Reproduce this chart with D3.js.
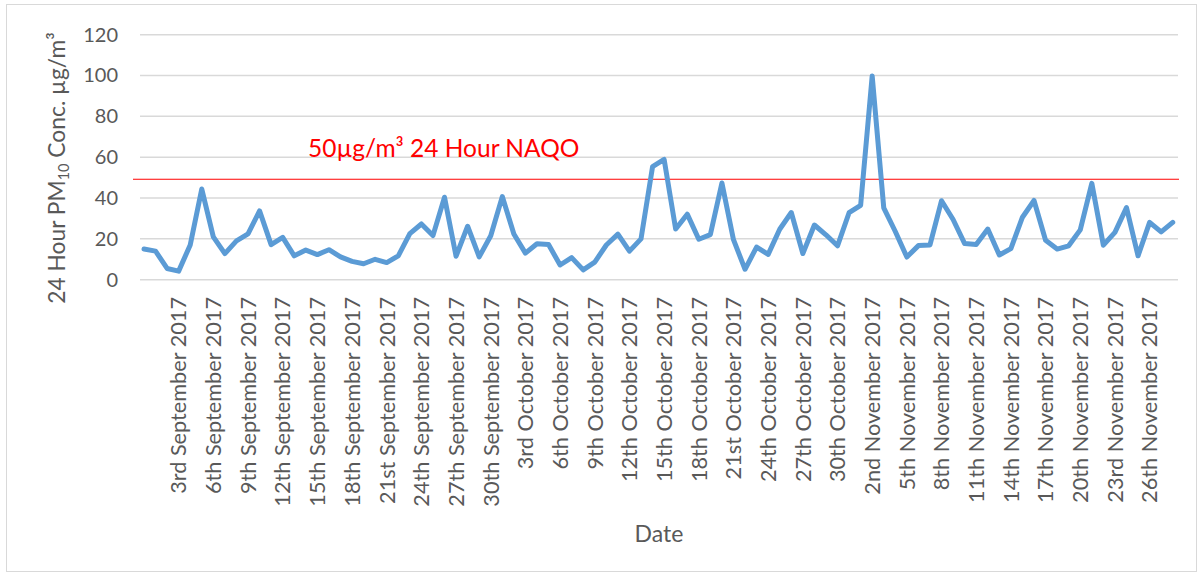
<!DOCTYPE html>
<html>
<head>
<meta charset="utf-8">
<script src="https://cdn.jsdelivr.net/npm/d3@7"></script>
<style>
  html, body { margin: 0; padding: 0; background: #ffffff; }
  svg { display: block; font-family: Lato, "Open Sans", sans-serif; }
</style>
</head>
<body>
<svg id="chart" width="1203" height="576"></svg>
<script>
// ---- data ----
const startDate = "2017-08-31";
const pm10Values = [
  15.0, 14.0, 5.5, 4.2, 17.0, 44.4, 21.0, 12.8, 19.0, 22.4,
  33.7, 17.2, 20.7, 11.7, 14.5, 12.3, 14.7, 11.2, 9.0, 7.8,
  10.0, 8.4, 11.7, 22.6, 27.3, 21.6, 40.4, 11.5, 26.2, 11.2,
  21.5, 40.7, 22.4, 13.0, 17.6, 17.2, 7.2, 10.8, 4.8, 8.6,
  17.0, 22.3, 14.0, 20.0, 55.4, 58.9, 24.8, 32.1, 19.8, 22.1,
  47.4, 19.6, 5.1, 16.0, 12.4, 24.7, 32.9, 12.8, 26.8, 22.0,
  16.6, 32.8, 36.4, 99.8, 35.2, 23.6, 11.1, 16.7, 17.0, 38.7,
  29.5, 17.7, 17.2, 24.8, 12.1, 15.2, 30.6, 38.8, 19.3, 15.0,
  16.6, 24.4, 47.2, 16.9, 23.2, 35.3, 11.7, 28.1, 23.4, 28.1
];
const tickLabels = [
  "3rd September 2017", "6th September 2017", "9th September 2017", "12th September 2017",
  "15th September 2017", "18th September 2017", "21st September 2017", "24th September 2017",
  "27th September 2017", "30th September 2017", "3rd October 2017", "6th October 2017",
  "9th October 2017", "12th October 2017", "15th October 2017", "18th October 2017",
  "21st October 2017", "24th October 2017", "27th October 2017", "30th October 2017",
  "2nd November 2017", "5th November 2017", "8th November 2017", "11th November 2017",
  "14th November 2017", "17th November 2017", "20th November 2017", "23rd November 2017",
  "26th November 2017"
];
const yTicks = [0, 20, 40, 60, 80, 100, 120];
const naqoValue = 49.2;
const naqoLabel = "50µg/m³ 24 Hour NAQO";
const xTitle = "Date";

// ---- categories: one per day ----
function ordinal(d) {
  if (d % 10 === 1 && d !== 11) return d + "st";
  if (d % 10 === 2 && d !== 12) return d + "nd";
  if (d % 10 === 3 && d !== 13) return d + "rd";
  return d + "th";
}
const monthFmt = d3.timeFormat("%B %Y");
const d0 = d3.timeParse("%Y-%m-%d")(startDate);
const categories = pm10Values.map((_, i) => {
  const d = d3.timeDay.offset(d0, i);
  return ordinal(d.getDate()) + " " + monthFmt(d);
});
const data = categories.map((c, i) => ({ cat: c, v: pm10Values[i] }));

// ---- layout ----
const svg = d3.select("#chart");
const textColor = "#595959";

svg.append("rect")
  .attr("x", 6.5).attr("y", 4.5)
  .attr("width", 1190).attr("height", 567)
  .attr("fill", "#ffffff").attr("stroke", "#d9d9d9").attr("stroke-width", 1);

const x = d3.scaleBand().domain(categories).range([138.2, 1178.5]).padding(0);
const y = d3.scaleLinear().domain([0, 120]).range([279.7, 34.7]);

// gridlines
svg.append("g")
  .selectAll("line")
  .data(yTicks)
  .join("line")
  .attr("x1", 140).attr("x2", 1178)
  .attr("y1", d => y(d)).attr("y2", d => y(d))
  .attr("stroke", "#d9d9d9").attr("stroke-width", 1.5);

// y axis labels
const yAxis = d3.axisLeft(y).tickValues(yTicks).tickSize(0).tickPadding(0);
const gy = svg.append("g").attr("transform", "translate(118,0)").call(yAxis);
gy.select(".domain").remove();
gy.selectAll("text")
  .attr("fill", textColor)
  .style("font-size", "20px")
  .style("font-family", "Lato, 'Open Sans', sans-serif");

// x axis labels
const xAxis = d3.axisBottom(x).tickValues(tickLabels).tickSize(0).tickPadding(0);
const gx = svg.append("g").attr("transform", "translate(0,297)").call(xAxis);
gx.select(".domain").remove();
gx.selectAll("text")
  .attr("fill", textColor)
  .style("font-size", "21.7px")
  .style("font-family", "Lato, 'Open Sans', sans-serif")
  .attr("text-anchor", "end")
  .attr("transform", "rotate(-90)")
  .attr("x", 0)
  .attr("y", 0)
  .attr("dy", "0.36em");

// NAQO threshold line
svg.append("line")
  .attr("x1", 133).attr("x2", 1179)
  .attr("y1", y(naqoValue)).attr("y2", y(naqoValue))
  .attr("stroke", "#ff0000").attr("stroke-width", 1.2);

svg.append("text")
  .attr("x", 308).attr("y", 157)
  .attr("fill", "#ff0000")
  .style("font-size", "24.5px")
  .text(naqoLabel);

// data line
const line = d3.line()
  .x(d => x(d.cat) + x.bandwidth() / 2)
  .y(d => y(d.v));

svg.append("path")
  .datum(data)
  .attr("d", line)
  .attr("fill", "none")
  .attr("stroke", "#5b9bd5")
  .attr("stroke-width", 5)
  .attr("stroke-linejoin", "round")
  .attr("stroke-linecap", "round");

// y title
const yt = svg.append("text")
  .attr("transform", "translate(57,168) rotate(-90)")
  .attr("text-anchor", "middle")
  .attr("dy", "0.36em")
  .attr("fill", textColor)
  .style("font-size", "22.8px");
yt.append("tspan").text("24 Hour PM");
yt.append("tspan").attr("baseline-shift", "-25%").style("font-size", "14.5px").text("10");
yt.append("tspan").text(" Conc. µg/m³");

// x title
svg.append("text")
  .attr("x", 659).attr("y", 542)
  .attr("text-anchor", "middle")
  .attr("fill", textColor)
  .style("font-size", "23px")
  .text(xTitle);
</script>
</body>
</html>
